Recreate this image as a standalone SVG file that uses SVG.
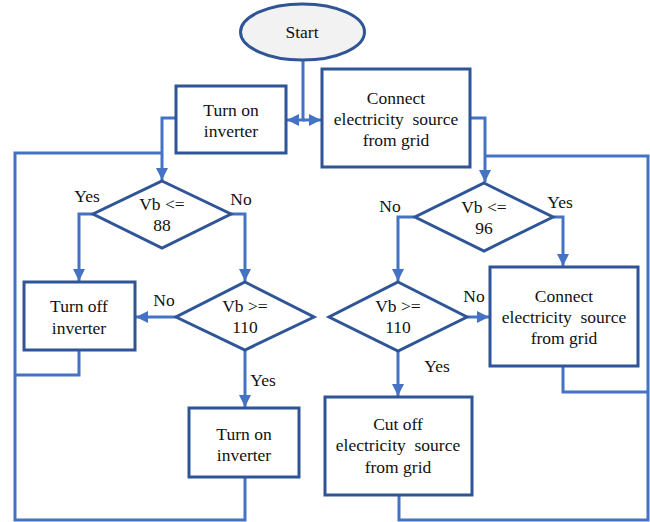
<svg xmlns="http://www.w3.org/2000/svg" width="650" height="522" viewBox="0 0 650 522">
<defs>
<marker id="ah" markerUnits="userSpaceOnUse" markerWidth="12" markerHeight="12" viewBox="0 0 10 10" refX="10" refY="5" orient="auto">
<path d="M0,0 L10,5 L0,10 z" fill="#4472C4"/>
</marker>
<style>
.node{fill:#fff;stroke:#2F5597;stroke-width:3}
.term{fill:#F2F2F2;stroke:#2F5597;stroke-width:3}
.c{fill:none;stroke:#4472C4;stroke-width:3}
.a{marker-end:url(#ah)}
text{font-family:"Liberation Serif","Times New Roman",serif;font-size:17.5px;fill:#111;text-anchor:middle}
</style>
</defs>
<rect width="650" height="522" fill="#fff"/>
<g id="connectors">
<path class="c a" d="M303,60 V120 H287"/>
<path class="c a" d="M303,120 H321"/>
<path class="c a" d="M176,118 H162 V180"/>
<path class="c" d="M162,153 H15 V520 H245 V478"/>
<path class="c" d="M79,351 V375 H15"/>
<path class="c a" d="M93,214 H79 V281"/>
<path class="c a" d="M231,214 H245 V281"/>
<path class="c a" d="M176,317 H136"/>
<path class="c a" d="M245,350 V407"/>
<path class="c a" d="M470,118 H485 V182"/>
<path class="c" d="M485,156 H648 V520 H399 V496"/>
<path class="c" d="M563,367 V392 H648"/>
<path class="c a" d="M415,217 H398 V281"/>
<path class="c a" d="M553,217 H563 V266"/>
<path class="c a" d="M467,317 H489"/>
<path class="c a" d="M398,350 V396"/>
</g>
<g id="start"><ellipse class="term" cx="302.5" cy="32" rx="62" ry="28"/><text x="302" y="38">Start</text></g>
<g id="turnon1"><rect class="node" x="176" y="86" width="110" height="67"/><text x="231" y="116">Turn on</text><text x="231" y="137">inverter</text></g>
<g id="connect1"><rect class="node" x="322" y="69" width="148" height="98"/><text x="396" y="104">Connect</text><text x="396" y="125" xml:space="preserve">electricity  source</text><text x="396" y="146">from grid</text></g>
<g id="d88"><polygon class="node" points="162,181 231,214 162,248 93,214"/><text x="162" y="210">Vb &lt;=</text><text x="162" y="231">88</text></g>
<g id="turnoff"><rect class="node" x="24" y="282" width="111" height="68"/><text x="79" y="312">Turn off</text><text x="79" y="334">inverter</text></g>
<g id="d110a"><polygon class="node" points="245,282 314,317 245,350 176,317"/><text x="245" y="312">Vb &gt;=</text><text x="245" y="333">110</text></g>
<g id="turnon2"><rect class="node" x="189" y="408" width="110" height="69"/><text x="244" y="440">Turn on</text><text x="244" y="461">inverter</text></g>
<g id="d96"><polygon class="node" points="484,183 553,217 484,251 415,217"/><text x="484" y="213">Vb &lt;=</text><text x="484" y="234">96</text></g>
<g id="d110b"><polygon class="node" points="398,282 467,317 398,351 329,317"/><text x="398" y="312">Vb &gt;=</text><text x="398" y="333">110</text></g>
<g id="connect2"><rect class="node" x="490" y="267" width="148" height="99"/><text x="564" y="302">Connect</text><text x="564" y="323" xml:space="preserve">electricity  source</text><text x="564" y="344">from grid</text></g>
<g id="cutoff"><rect class="node" x="325" y="397" width="147" height="98"/><text x="398" y="430">Cut off</text><text x="398" y="451" xml:space="preserve">electricity  source</text><text x="398" y="473">from grid</text></g>
<g id="labels">
<text x="87" y="202">Yes</text>
<text x="241" y="205">No</text>
<text x="164" y="306">No</text>
<text x="263" y="386">Yes</text>
<text x="390" y="212">No</text>
<text x="560" y="208">Yes</text>
<text x="474" y="302">No</text>
<text x="437" y="372">Yes</text>
</g>
</svg>
